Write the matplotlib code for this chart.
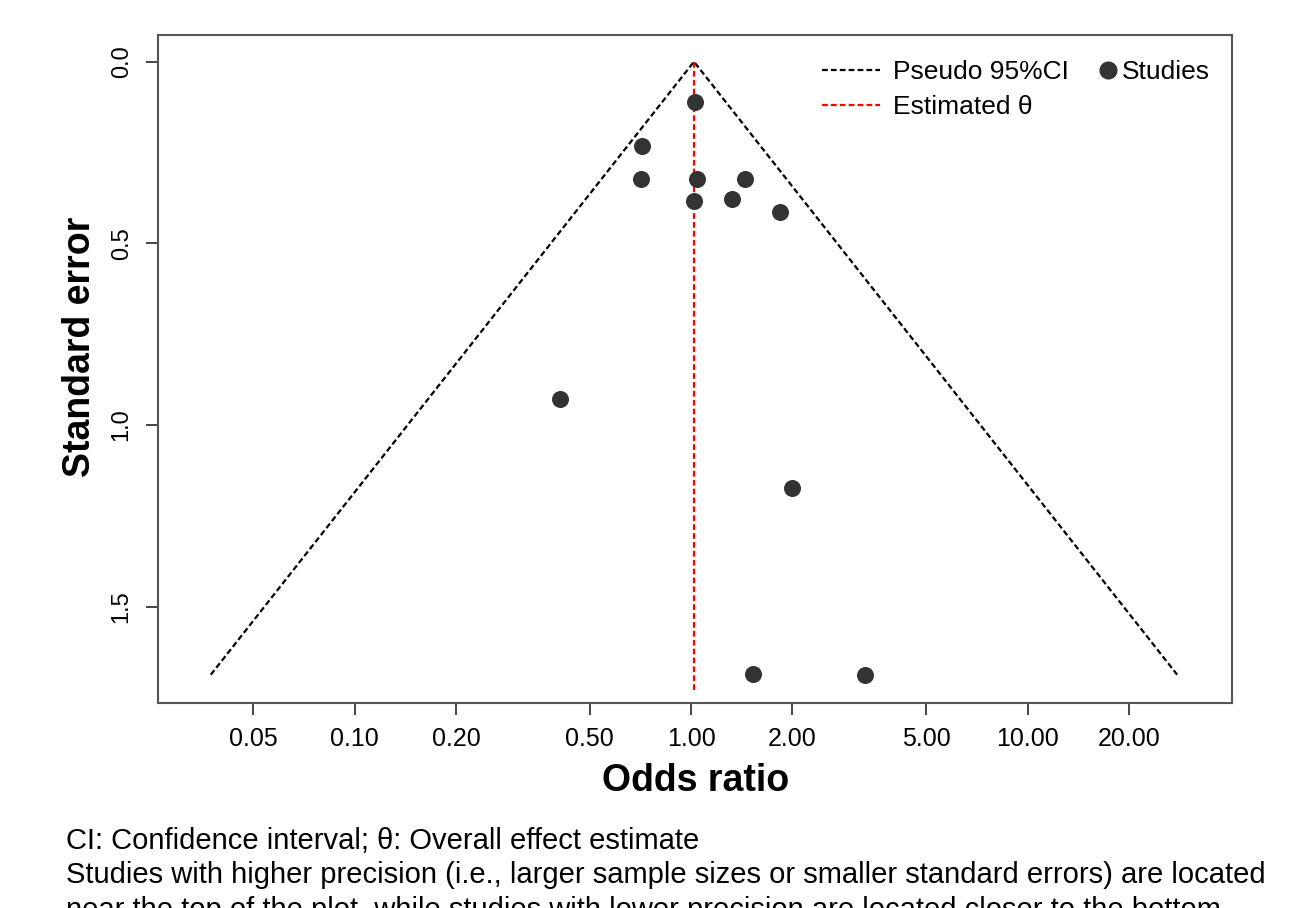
import numpy as np
import matplotlib
matplotlib.use("Agg")
from matplotlib import pyplot as plt
from matplotlib.lines import Line2D

# study estimates
odds_ratio = [1.028, 0.714, 0.712, 1.044, 1.447, 1.021, 1.327, 1.843, 0.407, 1.992, 1.525, 3.296]
std_err = [0.112, 0.232, 0.324, 0.324, 0.324, 0.383, 0.379, 0.415, 0.928, 1.173, 1.685, 1.687]
theta = 1.02
theta_line_end = 1.73

xticks = [0.05, 0.1, 0.2, 0.5, 1, 2, 5, 10, 20]
xtick_labels = ["0.05", "0.10", "0.20", "0.50", "1.00", "2.00", "5.00", "10.00", "20.00"]
yticks = [0.0, 0.5, 1.0, 1.5]
ytick_labels = ["0.0", "0.5", "1.0", "1.5"]

notes = ["CI: Confidence interval; \u03b8: Overall effect estimate",
         "Studies with higher precision (i.e., larger sample sizes or smaller standard errors) are located",
         "near the top of the plot, while studies with lower precision are located closer to the bottom"]

plt.rcParams['font.family'] = ['Liberation Sans', 'DejaVu Sans']

fig = plt.figure(figsize=(13.02, 9.08), dpi=100)
ax = fig.add_axes([0.1216, 0.2261, 0.8249, 0.7354])

se_max = max(std_err)
z = 1.96
funnel_x = [theta * np.exp(-z * se_max), theta, theta * np.exp(z * se_max)]
funnel_y = [se_max, 0, se_max]
dash = (0, (2.6, 1.4))
ax.plot(funnel_x, funnel_y, color='black', lw=1.6, linestyle=dash)
ax.plot([theta, theta], [0, theta_line_end], color='#ff0000', lw=1.6, linestyle=dash)
ax.scatter(odds_ratio, std_err, s=150, color='#333333', zorder=3, linewidths=0)

ax.set_xscale('log')
ax.set_xlim(0.0261, 40.6)
ax.set_ylim(1.764, -0.0735)
ax.minorticks_off()
ax.set_xticks(xticks)
ax.set_xticklabels(xtick_labels, fontsize=18)
ax.set_yticks(yticks)
ax.set_yticklabels(ytick_labels, fontsize=17, rotation=90, va='center')
ax.tick_params(axis='x', length=8.5, width=1.4, color='#444444', pad=9)
ax.tick_params(axis='y', length=8.5, width=1.4, color='#444444', pad=10)
for sp in ax.spines.values():
    sp.set_color('#555555')
    sp.set_linewidth(1.5)

ax.set_xlabel("Odds ratio", fontsize=27, fontweight='bold', va='center')
ax.xaxis.set_label_coords(0.5, -0.1173)
ax.set_ylabel("Standard error", fontsize=27, fontweight='bold', va='center')
ax.yaxis.set_label_coords(-0.073, 0.533)

h_lines = [Line2D([], [], color='black', lw=1.6, linestyle=dash),
           Line2D([], [], color='#ff0000', lw=1.6, linestyle=dash)]
leg1 = ax.legend(h_lines, ["Pseudo 95%CI", "Estimated \u03b8"], loc='upper left',
                 bbox_to_anchor=(0.618, 0.962), frameon=False, fontsize=19,
                 handlelength=2.2, handletextpad=0.5, labelspacing=0.42, borderpad=0,
                 borderaxespad=0)
ax.add_artist(leg1)
h_pts = [Line2D([], [], color='#333333', marker='o', markersize=12, linestyle='none')]
ax.legend(h_pts, ["Studies"], loc='upper left', bbox_to_anchor=(0.874, 0.962),
          frameon=False, fontsize=19, handlelength=0.8, handletextpad=0.15,
          borderpad=0, borderaxespad=0)

for txt, yb in zip(notes, [0.0650, 0.0275, -0.011]):
    fig.text(0.0507, yb, txt, fontsize=21, va='baseline', ha='left')

fig.savefig("out.png", dpi=100)
